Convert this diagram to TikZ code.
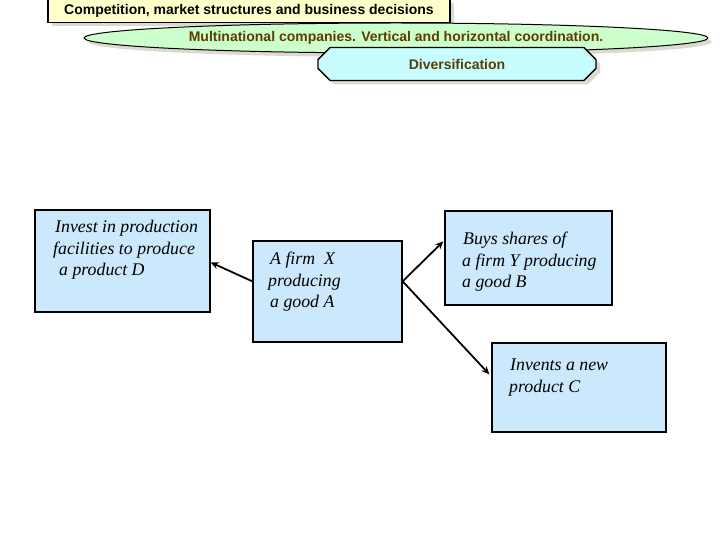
\documentclass[tikz,border=0pt]{standalone}
\usepackage{fontspec}
\setmainfont{Liberation Serif}
\newfontfamily\arialfont{Liberation Sans}
\usetikzlibrary{shapes.geometric,shapes.misc,shadows,calc,arrows.meta}
\definecolor{boxblue}{HTML}{CCE8FC}
\definecolor{titleyellow}{HTML}{FFFFCC}
\definecolor{ellgreen}{HTML}{CCFFCC}
\definecolor{divcyan}{HTML}{C8FDFF}
\definecolor{brownText}{HTML}{5C3D00}
\definecolor{shadowgray}{HTML}{DDD9D0}
\tikzset{
  x=1pt, y=-1pt,
  shade/.style={drop shadow={shadow xshift=4pt, shadow yshift=-4pt, fill=shadowgray, opacity=1}},
  bluebox/.style={draw=black, line width=1.3pt, fill=boxblue, inner sep=0pt},
  boxtext/.style={anchor=north west, inner sep=0pt, align=left, font=\itshape\fontsize{17.8}{21.5}\selectfont},
  headfont/.style={font=\arialfont\bfseries\fontsize{14}{16}\selectfont},
  conn/.style={line width=1.8pt, -{Stealth[length=8pt,width=7pt]}},
}
\begin{document}
\begin{tikzpicture}
\useasboundingbox (0,0) rectangle (720,540);
% title
\node[draw=black, line width=1.3pt, fill=titleyellow, shade, minimum width=402pt, minimum height=23pt, inner sep=0pt,
  headfont] (title) at (249,11) {Competition, market structures and business decisions};
% ellipse
\node[ellipse, draw=black, line width=1pt, fill=ellgreen, shade, minimum width=624pt, minimum height=30pt, inner sep=0pt,
  text=brownText, headfont] (multi) at (396,38) {Multinational companies. Vertical and horizontal coordination.};
% diversification
\node[chamfered rectangle, chamfered rectangle xsep=7pt, chamfered rectangle ysep=7pt, draw=black, line width=1.3pt, fill=divcyan, shade,
  minimum width=278pt, minimum height=33pt, inner sep=0pt, text=brownText, headfont] (div) at (457,64) {Diversification};
% boxes
\node[bluebox, minimum width=175pt, minimum height=102pt] (D) at (122.5,261) {};
\node[bluebox, minimum width=149pt, minimum height=101pt] (X) at (327.5,291.5) {};
\node[bluebox, minimum width=167pt, minimum height=94pt] (B) at (528.5,258) {};
\node[bluebox, minimum width=174pt, minimum height=89pt] (C) at (579,387.5) {};
% texts
\node[boxtext] (Dt) at (53,220) {\hspace*{2pt}Invest in production\\facilities to produce\\\hspace*{6pt}a product D};
\node[boxtext] (Xt) at (268,252) {\hspace*{2pt}A firm\ \ X\\producing\\\hspace*{2pt}a good A};
\node[boxtext] (Bt) at (462,232) {\hspace*{1pt}Buys shares of\\a firm Y producing\\a good B};
\node[boxtext] (Ct) at (509,359) {\hspace*{1pt}Invents a new\\product C};
% connectors
\coordinate (Xl) at ($(X.north west)+(0,41)$);
\coordinate (Xr) at ($(X.north east)+(0,41)$);
\draw[conn] (Xl) -- ($(D.north east)+(0,53)$);
\draw[conn] (Xr) -- ($(B.north west)+(-1,31)$);
\draw[conn] (Xr) -- ($(C.north west)+(-2,32)$);
\end{tikzpicture}
\end{document}
